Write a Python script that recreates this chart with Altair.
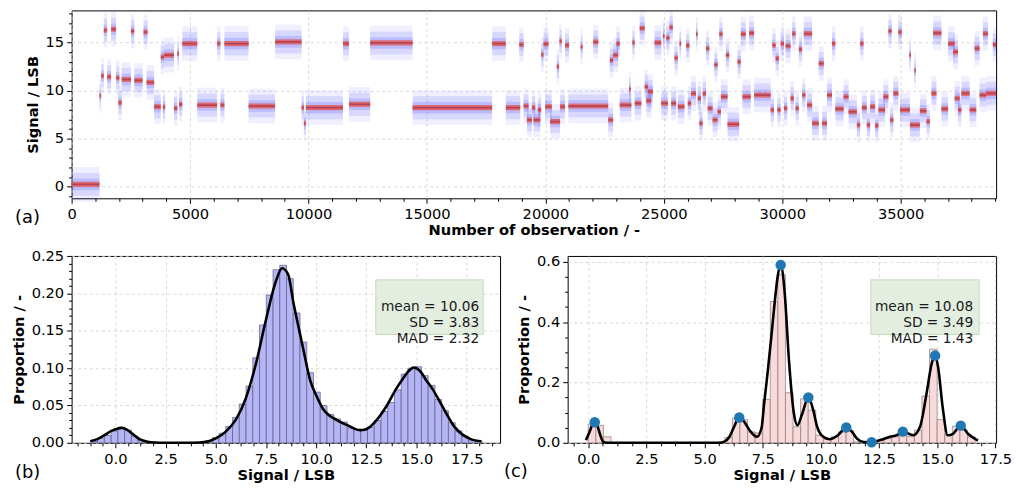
import altair as alt
import numpy as np
import pandas as pd

FONT = "DejaVu Sans"

# ---------------- (a) signal over observations: plateau segments ----------------
seg_start = [0, 1176, 1246, 1358, 1498, 1667, 1876, 1974, 2114, 2505, 2645, 3037, 3163, 3484,
             3764, 3850, 3904, 4323, 4463, 4533, 4673, 5303, 6142, 6282, 6450, 7471, 8590, 9709,
             9807, 9891, 11457, 11709, 12605, 14395, 17752,
             18330, 18900, 19082, 19222, 19432, 19502, 19684, 19824, 19922, 19992, 20202, 20482,
             20594, 20622, 20832, 20972, 21490, 22022, 22652, 22722, 22862, 23002, 23142, 23534,
             23674, 23772, 23982, 24192, 24262, 24332, 24612, 24892, 24962, 25102, 25242, 25312,
             25452, 25592, 25662, 25942, 26012, 26152, 26362, 26432, 26502, 26642, 26782, 26852,
             27062, 27132, 27272, 27342, 27412, 27622, 27692, 28112, 28252, 28322, 28602, 28812,
             29512, 29582, 29722, 29792, 29932, 30072, 30142, 30352, 30422, 30562, 30702, 30842,
             30912, 31052, 31262, 31542, 31682, 31892, 32102, 32242, 32592, 32802, 33152, 33292,
             33362, 33572, 33712, 33922, 34062, 34272, 34482, 34552, 34692, 34902, 34972, 35364,
             35392, 35574, 35812, 36092, 36302, 36372, 36722, 37002, 37212, 37282, 37422, 37562,
             37912, 38122, 38332, 38472, 38612, 38892]
seg_end = [1176, 1246, 1358, 1498, 1667, 1876, 2016, 2114, 2505, 2645, 2995, 3205, 3484, 3764,
           3904, 3950, 4323, 4463, 4533, 4673, 5303, 6142, 6282, 6450, 7471, 8590, 9709, 9807,
           9891, 11457, 11709, 12605, 14395, 17752, 18330,
           18940, 19082, 19292, 19432, 19572, 19782, 19824, 19922, 20132, 20272, 20622, 20580,
           20692, 20832, 21000, 22652, 21574, 22232, 22862, 22862, 23072, 23142, 23632, 23604,
           23772, 24052, 24192, 24332, 24472, 24542, 24892, 25172, 25032, 25242, 25382, 25522,
           25592, 25872, 25732, 26082, 26152, 26362, 26432, 26572, 26642, 26782, 26922, 27062,
           27272, 27272, 27412, 27482, 27692, 27762, 28182, 28252, 28462, 28672, 28812, 29512,
           29652, 29722, 29862, 29932, 30072, 30212, 30352, 30492, 30562, 30702, 30842, 30982,
           31262, 31262, 31542, 31752, 31892, 32102, 32242, 32592, 32802, 33152, 33292, 33432,
           33572, 33712, 33922, 34062, 34342, 34482, 34622, 34692, 34902, 35042, 35392, 35434,
           35812, 35644, 36092, 36232, 36512, 36722, 37002, 37282, 37422, 37492, 37562, 37912,
           38192, 38332, 38612, 38682, 39030, 39030]
seg_level = [0.24, 9.47, 11.55, 16.3, 11.45, 16.4, 11.34, 8.75, 11.17, 16.2, 11.07, 16.1, 10.86, 8.33,
             13.5, 8.3, 13.7, 8.16, 13.87, 8.58, 14.9, 8.5, 14.9, 8.5, 14.9, 8.4, 15.08, 8.23,
             6.6, 8.23, 14.9, 8.58, 14.97, 8.23, 14.9,
             8.23, 14.8, 8.4, 6.95, 8.23, 6.95, 8.0, 13.76, 14.87, 8.33, 6.78, 12.5,
             15.15, 8.33, 14.73, 8.4, 14.56, 15.08, 6.95, 13.17, 13.7, 14.9, 8.5, 10.17,
             15.0, 8.68, 16.5, 10.4, 8.96, 9.9, 15.0, 8.68, 15.7, 15.5, 16.6, 8.68,
             13.4, 8.33, 14.9, 14.7, 8.68, 9.7, 15.9, 9.2, 6.6, 9.7, 14.4, 8.16,
             6.95, 12.7, 7.8, 15.9, 9.37, 13.7, 6.5, 13.0, 15.9, 9.37, 16.0, 9.54,
             8.0, 14.73, 13.35, 8.0, 14.9, 8.16, 14.66, 9.2, 15.94, 8.16, 14.3, 9.54,
             15.94, 8.5, 6.6, 12.83, 6.6, 9.54, 14.9, 8.1, 9.37, 7.8, 6.43, 14.9,
             8.23, 6.43, 8.33, 6.36, 8.0, 9.37, 16.2, 6.95, 9.72, 16.1, 8.0, 13.7,
             6.43, 12.1, 7.9, 6.78, 9.72, 16.0, 8.1, 14.9, 14.04, 9.2, 8.0, 9.72,
             8.0, 14.4, 9.54, 15.94, 9.72, 14.8]

# ---------------- (b) histogram of raw signal ----------------
b_bin_start = -1.22
b_bin_width = 0.336
b_density = [0.002, 0.006, 0.010, 0.016, 0.021, 0.017, 0.009, 0.003, 0.001, 0.0005,
             0.0002, 0.0001, 0.0, 0.0, 0.0002, 0.0004, 0.001, 0.003, 0.007, 0.013,
             0.022, 0.034, 0.052, 0.076, 0.114, 0.158, 0.198, 0.232, 0.238, 0.220,
             0.174, 0.135, 0.094, 0.068, 0.050, 0.038, 0.032, 0.028, 0.020, 0.018,
             0.017, 0.021, 0.030, 0.042, 0.054, 0.071, 0.092, 0.100, 0.102, 0.090,
             0.077, 0.058, 0.043, 0.027, 0.016, 0.009, 0.004, 0.002]
b_kde_x = [-1.25, -0.9, -0.5, -0.2, 0.1, 0.3, 0.55, 0.85, 1.2, 1.6, 2.0, 2.5, 3.5, 4.2, 4.6,
           5.0, 5.5, 6.0, 6.5, 7.0, 7.5, 8.0, 8.3, 8.6, 8.88, 9.1, 9.37, 9.7, 10.03, 10.35,
           10.69, 11.0, 11.34, 11.6, 11.9, 12.18, 12.45, 12.67, 13.0, 13.5, 14.0, 14.32, 14.6,
           14.85, 15.15, 15.48, 15.8, 16.1, 16.47, 16.9, 17.29, 17.7, 18.23]
b_kde_y = [0.002, 0.005, 0.011, 0.016, 0.019, 0.020, 0.018, 0.012, 0.005, 0.0015, 0.0004,
           0.0001, 0.0, 0.0005, 0.0018, 0.006, 0.015, 0.031, 0.060, 0.106, 0.165, 0.217, 0.234,
           0.226, 0.186, 0.158, 0.124, 0.084, 0.062, 0.045, 0.036, 0.031, 0.026, 0.023, 0.019,
           0.017, 0.018, 0.021, 0.030, 0.049, 0.073, 0.086, 0.096, 0.101, 0.097, 0.084, 0.072,
           0.058, 0.040, 0.021, 0.011, 0.005, 0.002]
b_stats = ["mean = 10.06", "SD = 3.83", "MAD = 2.32"]

# ---------------- (c) histogram of filtered signal ----------------
c_bin_start = 0.0
c_bin_width = 0.326
c_density = [0.062, 0.058, 0.020, 0.0, 0.0, 0.0, 0.0, 0.0, 0.0, 0.0,
             0.0, 0.0, 0.0, 0.0, 0.0, 0.0, 0.0, 0.0, 0.018, 0.082,
             0.077, 0.036, 0.033, 0.144, 0.468, 0.557, 0.166, 0.053, 0.146, 0.108,
             0.025, 0.011, 0.020, 0.036, 0.040, 0.003, 0.0, 0.0, 0.007, 0.014,
             0.020, 0.033, 0.022, 0.042, 0.155, 0.310, 0.077, 0.026, 0.055, 0.042,
             0.020]
c_kde_x = [-0.10, 0.05, 0.18, 0.28, 0.40, 0.52, 0.65, 0.8, 3.0, 5.6, 5.85, 6.07, 6.25, 6.49,
           6.7, 6.95, 7.25, 7.45, 7.56, 7.72, 7.88, 8.02, 8.14, 8.27, 8.44, 8.63, 8.84, 8.99,
           9.2, 9.46, 9.67, 9.84, 10.1, 10.38, 10.73, 11.09, 11.37, 11.55, 11.84, 12.18, 12.55,
           12.97, 13.26, 13.52, 13.97, 14.26, 14.54, 14.76, 14.91, 15.04, 15.23, 15.45, 15.68,
           16.01, 16.32, 16.75]
c_kde_y = [0.009, 0.035, 0.060, 0.068, 0.055, 0.025, 0.003, 0.0, 0.0, 0.0, 0.004, 0.02, 0.05,
           0.084, 0.07, 0.04, 0.02, 0.05, 0.13, 0.24, 0.36, 0.47, 0.55, 0.589, 0.50, 0.27, 0.097,
           0.058, 0.097, 0.150, 0.108, 0.053, 0.02, 0.012, 0.025, 0.051, 0.033, 0.014, 0.003,
           0.002, 0.009, 0.02, 0.025, 0.037, 0.025, 0.053, 0.163, 0.262, 0.289, 0.25, 0.12,
           0.025, 0.03, 0.057, 0.03, 0.007]
c_peak_x = [0.28, 6.49, 8.27, 9.46, 11.09, 12.18, 13.52, 14.91, 16.01]
c_peak_y = [0.068, 0.084, 0.589, 0.150, 0.051, 0.002, 0.037, 0.289, 0.057]
c_stats = ["mean = 10.08", "SD = 3.49", "MAD = 1.43"]


def minor_axis(values, step, fmt, title, orient, label_pad, title_pad):
    test = f"abs(datum.value / {step} - round(datum.value / {step})) < 1e-6"
    return alt.Axis(
        values=[float(v) for v in values], title=title, orient=orient,
        labelExpr=f"({test}) ? format(datum.value, '{fmt}') : ''",
        tickSize={"condition": {"test": test, "value": 5}, "value": 3},
        gridOpacity={"condition": {"test": test, "value": 1}, "value": 0},
        labelFontSize={"condition": {"test": test, "value": 14.7}, "value": 0},
        labelOverlap=False, labelFlush=False, labelPadding=label_pad, titlePadding=title_pad,
        grid=True, gridColor="#cfcfcf", gridDash=[3, 3], gridWidth=0.8,
        tickColor="black", tickWidth=1, domain=False,
        labelFont=FONT, labelColor="black",
        titleFont=FONT, titleFontSize=14.7, titleFontWeight="bold", titleColor="black",
    )


def panel_label(txt, x, y):
    return alt.Chart(pd.DataFrame({"t": [txt]})).mark_text(
        align="left", baseline="middle", font=FONT, fontSize=18, color="black"
    ).encode(text="t:N", x=alt.value(x), y=alt.value(y))


def stats_box(lines, x0, x1, y0, y1, xr, yc):
    d = pd.DataFrame({"t": ["\n".join(lines)]})
    box = alt.Chart(d).mark_rect(fill="#e3eee0", stroke="#c6dac1", strokeWidth=1).encode(
        x=alt.value(x0), x2=alt.value(x1), y=alt.value(y0), y2=alt.value(y1))
    txt = alt.Chart(d).mark_text(
        align="right", baseline="middle", lineBreak="\n", lineHeight=16.3,
        font=FONT, fontSize=13.8, color="#1a1a1a"
    ).encode(text="t:N", x=alt.value(xr), y=alt.value(yc))
    return box, txt


# ---------------- panel (a) ----------------
seg = pd.DataFrame({"start": seg_start, "end": seg_end, "level": seg_level})
xs_a = alt.Scale(domain=[0, 39030], nice=False, zero=False)
ys_a = alt.Scale(domain=[-1.21, 18.36], nice=False, zero=False)
xa_a = minor_axis(np.arange(0, 39001, 1000), 5000, "d", "Number of observation / -", "bottom", 3, 2)
ya_a = minor_axis(np.arange(-1, 19, 1), 5, "d", "Signal / LSB", "left", 3, 5)


def band(half, color, opacity):
    return alt.Chart(seg).transform_calculate(
        lo=f"datum.level - {half}", hi=f"datum.level + {half}"
    ).mark_rect(color=color, opacity=opacity).encode(
        x=alt.X("start:Q", scale=xs_a, axis=xa_a), x2="end:Q",
        y=alt.Y("lo:Q", scale=ys_a, axis=ya_a), y2="hi:Q")


top = alt.layer(
    band(1.8, "#4d4dff", 0.09),
    band(1.2, "#4d4dff", 0.14),
    band(0.6, "#4d4dff", 0.2),
    band(0.27, "#e06464", 0.9),
    band(0.09, "#8a1038", 0.45),
    panel_label("(a)", -57, 209),
).properties(width=930, height=189)

# ---------------- panel (b) ----------------
nb = len(b_density)
bdf = pd.DataFrame({"x0": b_bin_start + b_bin_width * np.arange(nb), "h": b_density})
bdf["x1"] = bdf["x0"] + b_bin_width
xs_b = alt.Scale(domain=[-2.18, 19.16], nice=False, zero=False)
ys_b = alt.Scale(domain=[0, 0.2505], nice=False, zero=False)
xa_b = minor_axis(np.round(np.arange(-1.875, 18.76, 0.625), 4), 2.5, ".1f", "Signal / LSB", "bottom", 4, 1)
ya_b = minor_axis(np.round(np.arange(0, 0.2501, 0.01), 3), 0.05, ".2f", "Proportion / -", "left", 3, 5)

bars_b = alt.Chart(bdf).mark_rect(fill="#b4b4f7", stroke="#5c5c7a", strokeWidth=0.7).encode(
    x=alt.X("x0:Q", scale=xs_b, axis=xa_b), x2="x1:Q",
    y=alt.Y("h:Q", scale=ys_b, axis=ya_b), y2=alt.datum(0))
kde_b = alt.Chart(pd.DataFrame({"x": b_kde_x, "y": b_kde_y})).mark_line(
    color="black", strokeWidth=2.6, interpolate="monotone").encode(
    x=alt.X("x:Q", scale=xs_b, axis=xa_b), y=alt.Y("y:Q", scale=ys_b, axis=ya_b))
box_b, txt_b = stats_box(b_stats, 306, 414, 24, 79, 410, 51.4)
pb = alt.layer(bars_b, kde_b, box_b, txt_b, panel_label("(b)", -57, 218)).properties(width=431, height=188)

# ---------------- panel (c) ----------------
nc = len(c_density)
cdf = pd.DataFrame({"x0": c_bin_start + c_bin_width * np.arange(nc), "h": c_density})
cdf["x1"] = cdf["x0"] + c_bin_width
xs_c = alt.Scale(domain=[-0.885, 17.53], nice=False, zero=False)
ys_c = alt.Scale(domain=[0, 0.619], nice=False, zero=False)
xa_c = minor_axis(np.round(np.arange(-0.625, 17.51, 0.625), 4), 2.5, ".1f", "Signal / LSB", "bottom", 4, 1)
ya_c = minor_axis(np.round(np.arange(0, 0.6001, 0.05), 3), 0.2, ".1f", "Proportion / -", "left", 3, 5)

bars_c = alt.Chart(cdf).mark_rect(fill="#f9dada", stroke="#8c7b7b", strokeWidth=0.7).encode(
    x=alt.X("x0:Q", scale=xs_c, axis=xa_c), x2="x1:Q",
    y=alt.Y("h:Q", scale=ys_c, axis=ya_c), y2=alt.datum(0))
kde_c = alt.Chart(pd.DataFrame({"x": c_kde_x, "y": c_kde_y})).mark_line(
    color="black", strokeWidth=2.6, interpolate="monotone").encode(
    x=alt.X("x:Q", scale=xs_c, axis=xa_c), y=alt.Y("y:Q", scale=ys_c, axis=ya_c))
dots_c = alt.Chart(pd.DataFrame({"x": c_peak_x, "y": c_peak_y})).mark_circle(
    color="#1f77b4", opacity=1, size=110).encode(
    x=alt.X("x:Q", scale=xs_c, axis=xa_c), y=alt.Y("y:Q", scale=ys_c, axis=ya_c))
box_c, txt_c = stats_box(c_stats, 305, 414, 24, 79, 408, 51.4)
pc = alt.layer(bars_c, kde_c, dots_c, box_c, txt_c, panel_label("(c)", -64, 217)).properties(width=431, height=188)

bottom = alt.hconcat(pb, pc, spacing=68, bounds="flush")
chart = alt.vconcat(top, bottom, spacing=58, bounds="flush").properties(
    padding={"left": 2, "top": 0, "right": 0, "bottom": 0}, background="white"
).configure_view(stroke="black", strokeWidth=1)

chart.save("out.html", embed_options={"renderer": "svg", "actions": False})
